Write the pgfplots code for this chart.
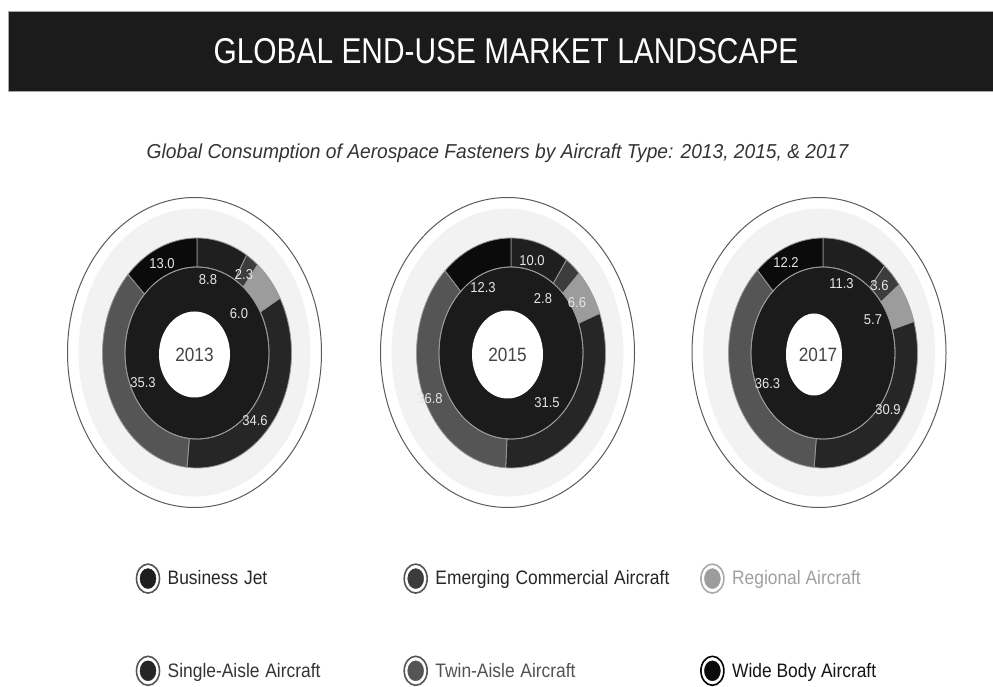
\documentclass[border=0pt]{standalone}
\usepackage{pgfplots}
\usepackage{pgfplotstable}
\pgfplotsset{compat=1.18}
\usepackage{fontspec}
\setmainfont{Liberation Sans}

\definecolor{cBJ}{HTML}{1F1F1F}
\definecolor{cEM}{HTML}{3C3C3C}
\definecolor{cRG}{HTML}{9C9C9C}
\definecolor{cSA}{HTML}{262626}
\definecolor{cTA}{HTML}{555555}
\definecolor{cWB}{HTML}{0B0B0B}
\definecolor{cIn}{HTML}{1B1B1B}
\definecolor{sepc}{HTML}{9A9A9A}
\definecolor{halo}{HTML}{F2F2F2}
\definecolor{rim}{HTML}{5A5A5A}
\definecolor{barc}{HTML}{1B1B1B}
\definecolor{lbl}{HTML}{E6E6E6}
\definecolor{yearc}{HTML}{444444}
\definecolor{subc}{HTML}{333333}
\definecolor{ringc}{HTML}{555555}
\definecolor{ringl}{HTML}{AAAAAA}

% shares (%) by aircraft type
\pgfplotstableread{
type v2013 v2015 v2017 color
BJ   8.8   10.0  11.3  cBJ
EM   2.3   2.8   3.6   cEM
RG   6.0   6.6   5.7   cRG
SA   34.6  31.5  30.9  cSA
TA   35.3  36.8  36.3  cTA
WB   13.0  12.3  12.2  cWB
}\shares

\def\Rx{94.5}\def\Ry{115}\def\rx{72}\def\ry{86}
\def\cy{333}

% #1 column, #2 pie cx, #3 hole cx, #4 hole rx, #5 hole ry, #6 outer cx, #7 year text cx, #8 year
\newcommand\donut[8]{%
  \draw[rim, line width=1pt] (axis cs:#6,333.5) ellipse [x radius=127pt, y radius=155pt];
  \fill[halo] (axis cs:#6,333.5) ellipse [x radius=116pt, y radius=144pt];
  \fill[cIn] (axis cs:#2,\cy) ellipse [x radius=\rx pt, y radius=\ry pt];
  \def\startang{90}%
  \pgfplotsforeachungrouped \r in {0,...,5}{%
    \pgfplotstablegetelem{\r}{#1}\of\shares \let\val\pgfplotsretval
    \pgfplotstablegetelem{\r}{color}\of\shares \let\col\pgfplotsretval
    \pgfmathsetmacro\endang{\startang-3.6*\val}%
    \pgfmathsetmacro\xo{#2+\Rx*cos(\startang)}%
    \pgfmathsetmacro\yo{\cy+\Ry*sin(\startang)}%
    \pgfmathsetmacro\xi{#2+\rx*cos(\endang)}%
    \pgfmathsetmacro\yi{\cy+\ry*sin(\endang)}%
    \edef\tmp{\noexpand\filldraw[fill=\col,draw=sepc,line width=0.8pt] (axis cs:\xo,\yo) arc[start angle=\startang,end angle=\endang,x radius=\Rx pt,y radius=\Ry pt] -- (axis cs:\xi,\yi) arc[start angle=\endang,end angle=\startang,x radius=\rx pt,y radius=\ry pt] -- cycle;}%
    \tmp
    \let\startang\endang
  }%
  \draw[sepc, line width=0.8pt] (axis cs:#2,\cy) ellipse [x radius=\rx pt, y radius=\ry pt];
  \fill[white] (axis cs:#3,331.5) ellipse [x radius=#4pt, y radius=#5pt];
  \node[text=yearc, font=\fontsize{17.2}{20}\selectfont, inner sep=0pt] at (axis cs:#7,331.5) {\scalebox{1}[1.12]{#8}};
}
\newcommand\lab[3]{\node[text=lbl, font=\fontsize{13}{15}\selectfont, inner sep=0pt] at (axis cs:#1,#2) {\scalebox{1}[1.1]{#3}};}

\pgfplotsset{dring/.style 2 args={legend image code/.code={%
  \draw[draw=#1, line width=1.6pt, fill=white] (0pt,0pt) ellipse [x radius=11.5pt, y radius=14.5pt];
  \fill[#2] (0pt,0pt) ellipse [x radius=8pt, y radius=10pt];
  \path[draw=none, fill=none] (-12.3pt,0pt) rectangle (19.7pt,0pt);}}}

\begin{document}
\begin{tikzpicture}
\path[use as bounding box] (0,0) rectangle (993pt,686pt);
\begin{axis}[
  x=1pt, y=1pt, xmin=0, xmax=993, ymin=0, ymax=686,
  scale only axis, hide axis, clip=false,
  at={(0pt,0pt)}, anchor=south west,
  legend columns=3,
  legend cell align=left,
  legend style={at={(axis cs:135.7,122.7)}, anchor=north west, draw=none, fill=none,
    inner sep=0pt, outer sep=0pt, column sep=0pt, row sep=61.6pt,
    nodes={inner sep=0pt, outer sep=0pt},
    font=\fontsize{17.4}{20}\selectfont},
]
% header bar
\filldraw[fill=barc, draw=gray!70, line width=1pt] (axis cs:8,594) rectangle (axis cs:1000,674);
\node[text=white, font=\fontsize{29.9}{34}\selectfont, inner sep=0pt] at (axis cs:506,634.5) {\scalebox{1}[1.2]{GLOBAL END-USE MARKET LANDSCAPE}};
\node[text=subc, font=\fontsize{19.2}{22}\selectfont\itshape, inner sep=0pt] at (axis cs:497.5,533) {\scalebox{1}[1.05]{Global Consumption of Aerospace Fasteners by Aircraft Type: 2013, 2015, \& 2017}};

\donut{v2013}{197}{194.5}{35.5}{43}{194.5}{194.5}{2013}
\donut{v2015}{511}{507.5}{35.5}{44}{507.5}{507.5}{2015}
\donut{v2017}{823}{814}{28}{41}{819}{818}{2017}

% value labels
\lab{162}{422.7}{13.0}
\lab{208}{406}{8.8}
\lab{244}{411.7}{2.3}
\lab{239}{372.7}{6.0}
\lab{143}{303.3}{35.3}
\lab{255}{265.3}{34.6}

\lab{532}{425}{10.0}
\lab{483}{398.7}{12.3}
\lab{543}{387.7}{2.8}
\lab{577}{383.7}{6.6}
\lab{430}{287.7}{36.8}
\lab{547}{283.3}{31.5}

\lab{786}{423}{12.2}
\lab{841.5}{402.5}{11.3}
\lab{879.5}{400}{3.6}
\lab{873}{366}{5.7}
\lab{767.5}{302}{36.3}
\lab{888}{276.5}{30.9}

% legend
\addlegendimage{dring={ringc}{cBJ}}
\addlegendentry[text=black!85, text width=235.7pt]{\scalebox{1}[1.12]{Business Jet}}
\addlegendimage{dring={ringc}{cEM}}
\addlegendentry[text=black!85, text width=264.7pt]{\scalebox{1}[1.12]{Emerging Commercial Aircraft}}
\addlegendimage{dring={ringl}{cRG}}
\addlegendentry[text=gray!75]{\scalebox{1}[1.12]{Regional Aircraft}}
\addlegendimage{dring={ringc}{cSA}}
\addlegendentry[text=black!80, text width=235.7pt]{\scalebox{1}[1.12]{Single-Aisle Aircraft}}
\addlegendimage{dring={ringc}{cTA}}
\addlegendentry[text=black!68, text width=264.7pt]{\scalebox{1}[1.12]{Twin-Aisle Aircraft}}
\addlegendimage{dring={black}{cWB}}
\addlegendentry[text=black!92]{\scalebox{1}[1.12]{Wide Body Aircraft}}
\end{axis}
\end{tikzpicture}
\end{document}
